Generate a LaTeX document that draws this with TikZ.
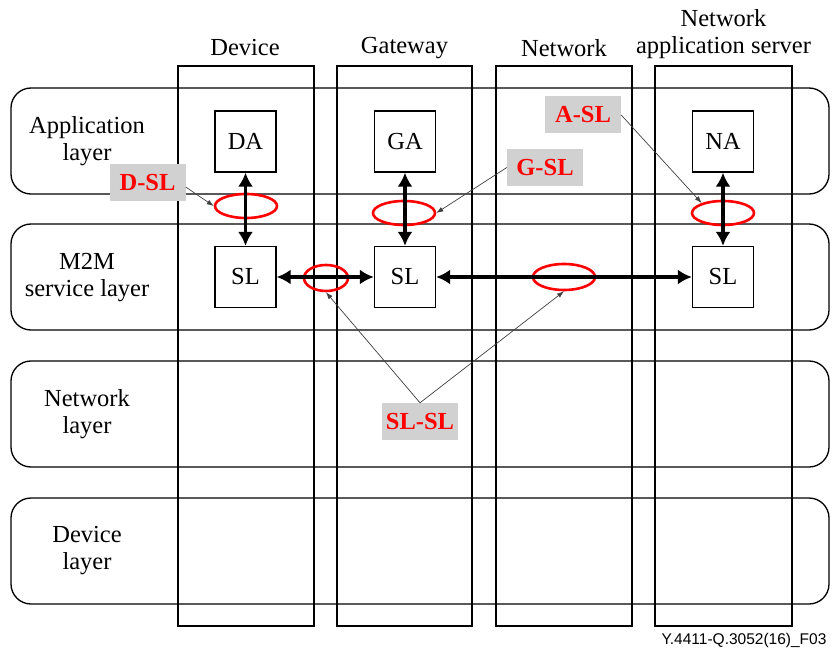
\documentclass[tikz,border=0pt]{standalone}
\usepackage{fontspec}
\setmainfont{Liberation Serif}
\newfontfamily\footfont{Liberation Sans}
\usetikzlibrary{arrows.meta,shapes.geometric}
\begin{document}
\begin{tikzpicture}[x=1pt,y=-1pt,
  every node/.style={font=\fontsize{24.5}{27}\selectfont},
  colbox/.style={draw, line width=1.3pt},
  rowbox/.style={draw, line width=1.3pt, rounded corners=20pt},
  entity/.style={draw, line width=1.3pt, fill=white, minimum width=61pt, minimum height=61pt, inner sep=0pt},
  ifc/.style={draw=red, line width=2.6pt, ellipse, inner sep=0pt},
  tag/.style={fill=black!18, text=red, font=\fontsize{24.5}{27}\selectfont\bfseries, minimum width=76pt, minimum height=37pt, inner sep=0pt},
  link/.style={line width=3.2pt, {Latex[length=14pt,width=15pt]}-{Latex[length=14pt,width=15pt]}},
  pointer/.style={draw=black!75, line width=0.7pt, -{Latex[length=7pt,width=5pt]}},
  lbl/.style={align=center}
]
\useasboundingbox (0,0) rectangle (832,652);
% columns
\draw[colbox] (178,66) rectangle (314,626);
\draw[colbox] (337,66) rectangle (472,626);
\draw[colbox] (496,66) rectangle (632,626);
\draw[colbox] (655,66) rectangle (792,626);
% rows
\draw[rowbox] (11,88) rectangle (829,194);
\draw[rowbox] (11,224) rectangle (829,330);
\draw[rowbox] (11,361) rectangle (829,467);
\draw[rowbox] (11,498) rectangle (829,604);
% column titles
\node[lbl] (tdev) at (245,48) {Device};
\node[lbl] (tgw) at (404.5,48) {Gateway};
\node[lbl] (tnet) at (564,48) {Network};
\node[lbl] (tnas) at (723.5,34.5) {Network\\application server};
% row titles
\node[lbl] (rapp) at (87,141) {Application\\layer};
\node[lbl] (rm2m) at (87,278) {M2M\\service layer};
\node[lbl] (rnet) at (87,414) {Network\\layer};
\node[lbl] (rdev) at (87,551) {Device\\layer};
% entities
\node[entity] (DA) at (245.5,141.5) {DA};
\node[entity] (GA) at (405,141.5) {GA};
\node[entity] (NA) at (723,141.5) {NA};
\node[entity] (SLd) at (245.5,277) {SL};
\node[entity] (SLg) at (405,277) {SL};
\node[entity] (SLn) at (723,277) {SL};
% interface ellipses
\node[ifc, minimum width=62pt, minimum height=24pt] (eD) at (246,206) {};
\node[ifc, minimum width=62pt, minimum height=24pt] (eG) at (404,213) {};
\node[ifc, minimum width=62pt, minimum height=24pt] (eN) at (723,213) {};
\node[ifc, minimum width=44pt, minimum height=26pt] (eDG) at (326,278) {};
\node[ifc, minimum width=62pt, minimum height=26pt] (eGN) at (564,277) {};
% links
\draw[link] (DA) -- (SLd);
\draw[link] (GA) -- (SLg);
\draw[link] (NA) -- (SLn);
\draw[link] (SLd) -- (SLg);
\draw[link] (SLg) -- (SLn);
% tags
\node[tag] (tD) at (147.5,183) {D-SL};
\node[tag] (tG) at (545,167.5) {G-SL};
\node[tag] (tA) at (583,115) {A-SL};
\node[tag] (tS) at (420,421.5) {SL-SL};
% pointers
\draw[pointer] ([yshift=-4pt]tD.east) -- (eD.west);
\draw[pointer] (tG.west) -- (eG.east);
\draw[pointer] (tA.east) -- (eN.155);
\draw[pointer] (tS.north) -- (eDG.south);
\draw[pointer] (tS.north) -- (eGN.south);
% footer
\node[font=\footfont\fontsize{15.5}{18}\selectfont] (foot) at (744,640) {Y.4411-Q.3052(16)\_F03};
\end{tikzpicture}
\end{document}
